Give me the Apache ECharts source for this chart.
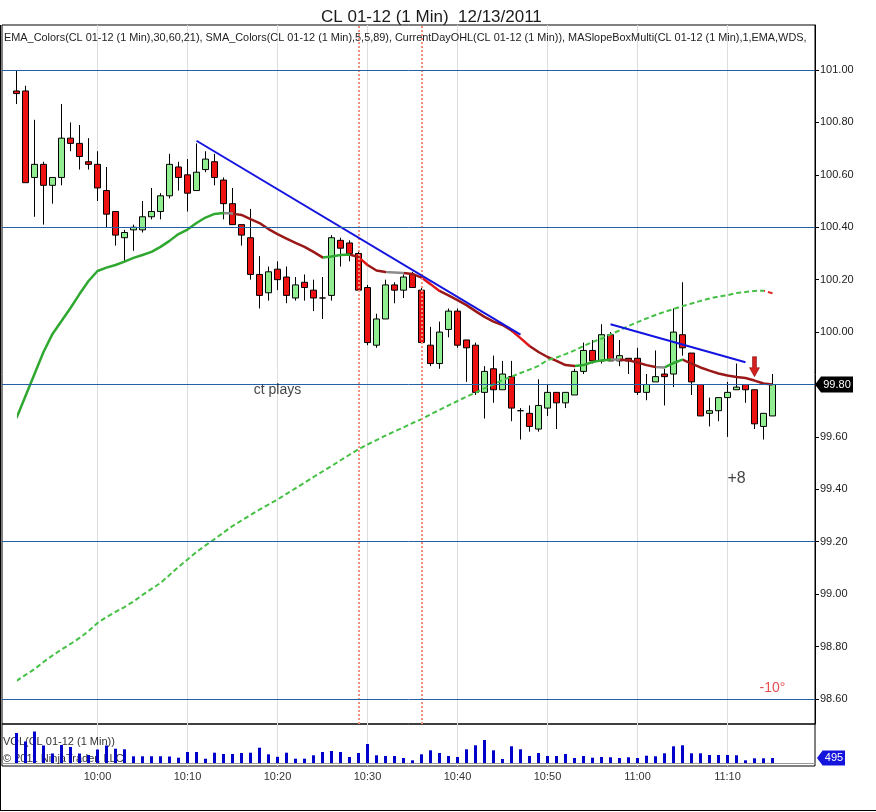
<!DOCTYPE html>
<html>
<head>
<meta charset="utf-8">
<script src="https://cdn.jsdelivr.net/npm/echarts@6/dist/echarts.min.js"></script>
<style>
html, body { margin: 0; padding: 0; background: #fff; }
#chart { width: 876px; height: 812px; }
</style>
</head>
<body>
<div id="chart"></div>
<script>
// 1 minute bars, 9:51 .. 11:15
var times = [];
for (var t = 9 * 60 + 51; t <= 11 * 60 + 15; t++) {
    times.push(Math.floor(t / 60) + ':' + ('0' + t % 60).slice(-2));
}

var opens = [
    100.92, 100.92, 100.59, 100.64, 100.56, 100.59, 100.74, 100.72, 100.65, 100.64,
    100.54, 100.46, 100.36, 100.39, 100.39, 100.44, 100.46, 100.52, 100.63, 100.60,
    100.54, 100.62, 100.65, 100.58, 100.49, 100.41, 100.36, 100.22, 100.15, 100.24,
    100.21, 100.13, 100.19, 100.16, 100.13, 100.14, 100.35, 100.34, 100.30, 100.17,
    99.95, 100.05, 100.18, 100.16, 100.22, 100.16, 99.95, 99.88, 100.01, 100.08,
    99.97, 99.95, 99.77, 99.86, 99.78, 99.83, 99.70, 99.69, 99.63, 99.71,
    99.77, 99.73, 99.76, 99.85, 99.93, 99.89, 99.99, 99.89, 99.90, 99.90,
    99.77, 99.81, 99.84, 99.84, 99.99, 99.92, 99.80, 99.69, 99.70, 99.75,
    99.78, 99.80, 99.78, 99.64, 99.68
];
var highs = [
    101.00, 100.94, 100.81, 100.65, 100.59, 100.87, 100.80, 100.79, 100.74, 100.69,
    100.63, 100.46, 100.39, 100.41, 100.50, 100.55, 100.53, 100.68, 100.65, 100.66,
    100.72, 100.69, 100.68, 100.59, 100.55, 100.41, 100.47, 100.29, 100.25, 100.27,
    100.25, 100.21, 100.22, 100.20, 100.21, 100.37, 100.36, 100.35, 100.31, 100.18,
    100.07, 100.20, 100.19, 100.22, 100.23, 100.17, 100.02, 100.04, 100.09, 100.09,
    99.97, 99.96, 99.87, 99.91, 99.89, 99.89, 99.71, 99.72, 99.82, 99.80,
    99.77, 99.77, 99.86, 99.96, 99.97, 100.03, 100.00, 99.97, 99.90, 99.94,
    99.84, 99.93, 99.86, 100.09, 100.19, 99.92, 99.80, 99.75, 99.75, 99.81,
    99.88, 99.80, 99.78, 99.69, 99.84
];
var lows = [
    100.87, 100.57, 100.44, 100.41, 100.49, 100.56, 100.69, 100.62, 100.62, 100.50,
    100.40, 100.33, 100.27, 100.31, 100.38, 100.43, 100.43, 100.51, 100.54, 100.46,
    100.54, 100.61, 100.56, 100.43, 100.41, 100.33, 100.20, 100.09, 100.12, 100.16,
    100.11, 100.12, 100.12, 100.08, 100.05, 100.12, 100.25, 100.27, 100.16, 99.95,
    99.94, 100.05, 100.11, 100.13, 100.17, 99.96, 99.87, 99.86, 99.98, 99.94,
    99.81, 99.76, 99.67, 99.73, 99.78, 99.66, 99.59, 99.62, 99.62, 99.68,
    99.63, 99.71, 99.76, 99.84, 99.88, 99.88, 99.89, 99.87, 99.84, 99.76,
    99.74, 99.81, 99.72, 99.79, 99.91, 99.76, 99.68, 99.64, 99.66, 99.60,
    99.78, 99.73, 99.63, 99.59, 99.68
];
var closes = [
    100.91, 100.57, 100.64, 100.56, 100.59, 100.74, 100.72, 100.67, 100.64, 100.55,
    100.45, 100.37, 100.38, 100.40, 100.44, 100.46, 100.52, 100.64, 100.59, 100.53,
    100.61, 100.66, 100.59, 100.49, 100.41, 100.37, 100.22, 100.14, 100.23, 100.20,
    100.14, 100.18, 100.17, 100.13, 100.13, 100.36, 100.32, 100.30, 100.16, 99.96,
    100.05, 100.18, 100.16, 100.21, 100.17, 99.96, 99.88, 100.00, 100.08, 99.95,
    99.94, 99.77, 99.85, 99.78, 99.84, 99.71, 99.70, 99.64, 99.72, 99.77,
    99.73, 99.77, 99.85, 99.93, 99.89, 99.99, 99.89, 99.91, 99.89, 99.77,
    99.80, 99.83, 99.83, 100.00, 99.94, 99.81, 99.68, 99.70, 99.75, 99.77,
    99.79, 99.78, 99.65, 99.69, 99.80
];
var volumes = [
    3000, 2150, 3150, 1750, 950, 1800, 1600, 950, 800, 1350,
    1750, 1430, 1370, 670, 670, 670, 670, 650, 530, 1100,
    1100, 430, 1030, 900, 900, 1000, 1030, 1530, 870, 620,
    1030, 430, 430, 770, 1100, 1200, 1100, 600, 1000, 1900,
    770, 700, 700, 500, 270, 870, 1270, 1000, 700, 600,
    1370, 1770, 2300, 1270, 400, 1670, 1370, 700, 1000, 700,
    700, 900, 500, 700, 530, 600, 570, 500, 570, 500,
    730, 670, 970, 1670, 1770, 970, 970, 800, 800, 800,
    770, 270, 470, 470, 495
];
// EMA_Colors line
var emaValues = [
    99.672, 99.756, 99.840, 99.924, 99.993, 100.042, 100.092, 100.145, 100.195, 100.233,
    100.246, 100.256, 100.269, 100.283, 100.294, 100.306, 100.325, 100.348, 100.374, 100.391,
    100.416, 100.437, 100.451, 100.454, 100.452, 100.447, 100.431, 100.416, 100.393, 100.374,
    100.357, 100.340, 100.325, 100.306, 100.285, 100.288, 100.294, 100.296, 100.286, 100.256,
    100.235, 100.229, 100.227, 100.225, 100.222, 100.208, 100.183, 100.157, 100.140, 100.122,
    100.103, 100.080, 100.058, 100.040, 100.027, 100.006, 99.977, 99.947, 99.924, 99.905,
    99.890, 99.874, 99.871, 99.874, 99.886, 99.892, 99.895, 99.895, 99.892, 99.884,
    99.874, 99.867, 99.865, 99.882, 99.895, 99.880, 99.865, 99.853, 99.842, 99.834,
    99.829, 99.825, 99.815, 99.804, 99.800
];
// SMA_Colors line (dashed)
var smaValues = [
    98.669, 98.692, 98.714, 98.741, 98.766, 98.789, 98.810, 98.833, 98.859, 98.890,
    98.913, 98.932, 98.951, 98.972, 98.997, 99.020, 99.043, 99.073, 99.104, 99.132,
    99.161, 99.186, 99.210, 99.235, 99.260, 99.281, 99.302, 99.323, 99.342, 99.361,
    99.383, 99.404, 99.425, 99.447, 99.468, 99.489, 99.511, 99.532, 99.553, 99.571,
    99.588, 99.605, 99.621, 99.636, 99.653, 99.668, 99.686, 99.703, 99.720, 99.737,
    99.754, 99.769, 99.785, 99.800, 99.817, 99.830, 99.844, 99.857, 99.871, 99.893,
    99.903, 99.916, 99.930, 99.947, 99.962, 99.975, 99.991, 100.006, 100.023, 100.038,
    100.052, 100.065, 100.077, 100.088, 100.099, 100.109, 100.119, 100.128, 100.136, 100.141,
    100.149, 100.153, 100.157, 100.158, 100.148
];

var priceTicks = [98.6, 98.8, 99.0, 99.2, 99.4, 99.6, 99.8, 100.0, 100.2, 100.4, 100.6, 100.8, 101.0];
var levelLines = [101.0, 100.4, 99.8, 99.2, 98.6];
var markerTimes = ['10:29', '10:36'];
var trendLines = [
    [['10:11', 100.73], ['10:47', 99.99]],
    [['10:57', 100.03], ['11:12', 99.885]]
];
var notes = [
    ['ct plays', '10:20', 99.78],
    ['+8', '11:11', 99.44],
    ['-10°', '11:15', 98.64]
];
var signalArrow = ['11:13', 99.868];

var noteStyle = {
    'ct plays': { fontSize: 14, color: '#111' },
    '+8': { fontSize: 16, color: '#111' },
    '-10°': { fontSize: 14, color: '#e02020' }
};

// price axis range so that 98.60..101.00 sits on y 699..70 inside a 25..724 panel
var pxPerUnit = (699 - 70) / 2.4;
var yMin = 98.6 - (724 - 699) / pxPerUnit;
var yMax = 101.0 + (70 - 25) / pxPerUnit;

function slopePieces(values, colorFor) {
    var pieces = [];
    for (var i = 1; i < values.length; i++) {
        var c = colorFor(values[i] - values[i - 1]);
        var last = pieces[pieces.length - 1];
        if (last && last.color === c) {
            last.lte = i;
        } else {
            pieces.push({ gt: i - 1, lte: i, color: c });
        }
    }
    delete pieces[0].gt;
    pieces[0].gte = 0;
    return pieces;
}

function emaColor(d) {
    if (d > 0.0015) return '#2fa82f';
    if (d >= -0.0025) return '#8c8c8c';
    if (d < -0.024) return '#e01818';
    return '#9a1818';
}
function smaColor(d) {
    return d >= 0 ? '#44c044' : '#e02a2a';
}

var isTen = function (idx, val) { return val.slice(-1) === '0'; };

var candleData = times.map(function (tm, i) {
    return [opens[i], closes[i], lows[i], highs[i]];
});
var lastClose = closes[closes.length - 1];
var lastVol = volumes[volumes.length - 1];

var chart = echarts.init(document.getElementById('chart'));

var option = {
    animation: false,
    backgroundColor: '#fff',
    textStyle: { fontFamily: 'Liberation Sans, Arial, sans-serif' },
    title: {
        text: 'CL 01-12 (1 Min)  12/13/2011',
        left: 316,
        top: 4,
        textStyle: { fontSize: 17, fontWeight: 'normal', color: '#1a1a1a', fontFamily: 'Liberation Sans' }
    },
    grid: [
        // price data
        { left: 16.5, right: 103.5, top: 25, bottom: 88, outerBoundsMode: 'none' },
        // volume data
        { left: 16.5, right: 103.5, top: 724, bottom: 46, outerBoundsMode: 'none' },
        // price panel frame + axis
        { left: 2, right: 61, top: 25, bottom: 88, show: true, borderColor: '#000', borderWidth: 1, outerBoundsMode: 'none' },
        // volume panel frame
        { left: 2, right: 61, top: 724, bottom: 46, show: true, borderColor: '#000', borderWidth: 1, outerBoundsMode: 'none' }
    ],
    xAxis: [
        {
            type: 'category', gridIndex: 0, data: times, boundaryGap: false,
            axisLine: { show: false }, axisTick: { show: false }, axisLabel: { show: false },
            splitLine: { show: true, interval: isTen, lineStyle: { color: '#dedede', width: 1 } }
        },
        {
            type: 'category', gridIndex: 1, data: times, boundaryGap: false,
            axisLine: { show: false, onZero: false }, axisTick: { show: false },
            axisLabel: { interval: isTen, fontSize: 11, color: '#333', margin: 5 },
            splitLine: { show: true, interval: isTen, lineStyle: { color: '#dedede', width: 1 } }
        },
        { type: 'value', gridIndex: 2, min: 0, max: 1, show: false },
        {
            type: 'value', gridIndex: 3, min: 0, max: 1,
            axisLine: { show: true, onZero: true, lineStyle: { color: '#9a9a9a' } },
            axisTick: { show: false }, axisLabel: { show: false }, splitLine: { show: false }
        }
    ],
    yAxis: [
        { type: 'value', gridIndex: 0, min: yMin, max: yMax, show: false },
        { type: 'value', gridIndex: 1, min: -300, max: 3900, show: false },
        {
            type: 'value', gridIndex: 2, min: yMin, max: yMax, position: 'right',
            axisLine: { show: true, onZero: false, lineStyle: { color: '#000' } },
            axisTick: { show: true, customValues: priceTicks, length: 4, lineStyle: { color: '#000' } },
            axisLabel: {
                customValues: priceTicks, fontSize: 11, color: '#222', margin: 5,
                formatter: function (v) { return v.toFixed(2); }
            },
            splitLine: { show: false }
        },
        { type: 'value', gridIndex: 3, min: -300, max: 3900, show: false }
    ],
    visualMap: [
        { type: 'piecewise', show: false, seriesIndex: 1, dimension: 0, pieces: slopePieces(emaValues, emaColor) },
        { type: 'piecewise', show: false, seriesIndex: 2, dimension: 0, pieces: slopePieces(smaValues, smaColor) }
    ],
    series: [
        {
            name: 'CL 01-12',
            type: 'candlestick',
            xAxisIndex: 0, yAxisIndex: 0,
            data: candleData,
            barWidth: 7,
            clip: false,
            z: 3,
            itemStyle: {
                color: '#90ee90', color0: '#ee1111',
                borderColor: '#000', borderColor0: '#000', borderWidth: 1
            },
            markLine: {
                silent: true,
                symbol: ['none', 'none'],
                label: { show: false },
                data: markerTimes.map(function (tm) {
                    return { xAxis: tm, lineStyle: { color: '#f2917c', type: [2, 2], width: 2 } };
                }).concat(trendLines.map(function (seg) {
                    return [
                        { coord: seg[0], lineStyle: { color: '#1414e0', type: 'solid', width: 2 } },
                        { coord: seg[1] }
                    ];
                }))
            },
            markPoint: {
                silent: true,
                data: [{
                    coord: signalArrow,
                    symbol: 'path://M3,0 L7,0 L7,11 L10,11 L5,20 L0,11 L3,11 Z',
                    symbolSize: [10, 20],
                    itemStyle: { color: '#d42020', borderColor: '#7a0000', borderWidth: 0.5 },
                    label: { show: false }
                }]
            }
        },
        {
            name: 'EMA',
            type: 'line',
            xAxisIndex: 0, yAxisIndex: 0,
            data: emaValues,
            showSymbol: false,
            z: 4,
            lineStyle: { width: 2.5 }
        },
        {
            name: 'SMA',
            type: 'line',
            xAxisIndex: 0, yAxisIndex: 0,
            data: smaValues,
            showSymbol: false,
            z: 4,
            lineStyle: { width: 2, type: [5, 3] }
        },
        {
            name: 'VOL',
            type: 'bar',
            xAxisIndex: 1, yAxisIndex: 1,
            data: volumes,
            barWidth: 3,
            clip: false,
            z: 3,
            itemStyle: { color: '#0000cc' }
        },
        {
            name: 'notes',
            type: 'scatter',
            xAxisIndex: 0, yAxisIndex: 0,
            symbolSize: 0,
            z: 5,
            data: notes.map(function (n) {
                return {
                    name: n[0], value: [n[1], n[2]],
                    label: {
                        show: true, position: 'inside', formatter: n[0],
                        fontSize: noteStyle[n[0]].fontSize, color: noteStyle[n[0]].color
                    }
                };
            })
        },
        {
            name: 'levels',
            type: 'line',
            xAxisIndex: 2, yAxisIndex: 2,
            data: [],
            z: 1,
            markLine: {
                silent: true,
                symbol: ['none', 'none'],
                label: { show: false },
                lineStyle: { color: '#2261a8', type: 'solid', width: 1 },
                data: levelLines.map(function (v) { return { yAxis: v }; })
            },
            markPoint: {
                silent: true,
                data: [{
                    coord: [1, lastClose],
                    symbol: 'path://M0,8 L6,0 L38,0 L38,16 L6,16 Z',
                    symbolSize: [38, 16],
                    symbolOffset: [19, 0],
                    itemStyle: { color: '#000' },
                    label: {
                        show: true, position: 'inside', offset: [3, 0],
                        formatter: lastClose.toFixed(2), color: '#fff', fontSize: 11
                    }
                }]
            }
        },
        {
            name: 'volTag',
            type: 'line',
            xAxisIndex: 3, yAxisIndex: 3,
            data: [],
            markPoint: {
                silent: true,
                data: [{
                    coord: [1, lastVol],
                    symbol: 'path://M0,8 L6,0 L30,0 L30,16 L6,16 Z',
                    symbolSize: [28, 15],
                    symbolOffset: [16, 0],
                    itemStyle: { color: '#1414dd' },
                    label: {
                        show: true, position: 'inside', offset: [3, 0],
                        formatter: String(lastVol), color: '#fff', fontSize: 11
                    }
                }]
            }
        }
    ],
    graphic: [
        {
            type: 'text', left: 4, top: 32, z: 1,
            style: {
                text: 'EMA_Colors(CL 01-12 (1 Min),30,60,21), SMA_Colors(CL 01-12 (1 Min),5,5,89), CurrentDayOHL(CL 01-12 (1 Min)), MASlopeBoxMulti(CL 01-12 (1 Min),1,EMA,WDS,',
                fontSize: 10.9, fill: '#222', fontFamily: 'Liberation Sans'
            }
        },
        {
            type: 'text', left: 3, top: 736, z: 1,
            style: { text: 'VOL(CL 01-12 (1 Min))', fontSize: 11, fill: '#333', fontFamily: 'Liberation Sans' }
        },
        {
            type: 'text', left: 3, top: 753, z: 1,
            style: { text: '\u00a9 2011 NinjaTrader, LLC', fontSize: 11, fill: '#333', fontFamily: 'Liberation Sans' }
        },
        { type: 'line', shape: { x1: 0, y1: 810.5, x2: 876, y2: 810.5 }, style: { stroke: '#000', lineWidth: 1 } },
        { type: 'line', shape: { x1: 0.5, y1: 25, x2: 0.5, y2: 811 }, style: { stroke: '#000', lineWidth: 1 } }
    ]
};

chart.setOption(option);
</script>
</body>
</html>
